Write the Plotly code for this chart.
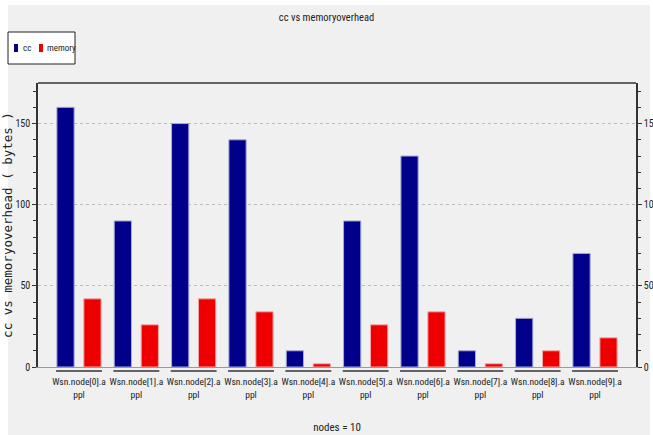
import plotly.graph_objects as go

# node labels and overhead values (bytes)
nodes = [f"Wsn.node[{i}].a<br>ppl" for i in range(10)]
cc_values = [160, 90, 150, 140, 10, 90, 130, 10, 30, 70]
memory_values = [42, 26, 42, 34, 2, 26, 34, 2, 10, 18]
series_names = ["cc", "memory"]

NAVY = "#00008B"
RED = "#EE0000"
FONT = "Roboto Condensed, DejaVu Sans Condensed, sans-serif"
TEXT = "#222222"

# plotting box in pixels
L, R, T, B = 38, 17, 83, 68
W, H = 653, 435
PW, PH = W - L - R, H - T - B


def px_x(p):
    return (p - L) / PW


def px_y(p):
    return (H - B - p) / PH


idx = list(range(len(nodes)))

fig = go.Figure()
fig.add_trace(go.Bar(
    x=idx, y=cc_values, name=series_names[0],
    marker=dict(color=NAVY, line=dict(color="#A8ABD6", width=1)),
))
fig.add_trace(go.Bar(
    x=idx, y=memory_values, name=series_names[1],
    marker=dict(color=RED, line=dict(color="#F4A8A8", width=1)),
))
# invisible trace to carry the mirrored right-hand axis
fig.add_trace(go.Scatter(x=[idx[0]], y=[0], yaxis="y2", mode="markers",
                         marker=dict(opacity=0), showlegend=False, hoverinfo="skip"))

shapes = []
# grey page panel inside a thin white frame
shapes.append(dict(type="rect", xref="paper", yref="paper", layer="below",
                   x0=px_x(8), x1=px_x(650), y0=px_y(435), y1=px_y(5),
                   fillcolor="#F0F0F0", line=dict(width=0)))
# underline beneath each category label
for i in idx:
    shapes.append(dict(type="line", xref="x", yref="paper",
                       x0=i - 0.4, x1=i + 0.4, y0=px_y(371), y1=px_y(371),
                       line=dict(color="#333333", width=1.5)))
# top border of the plotting box
shapes.append(dict(type="line", xref="paper", yref="paper", x0=0, x1=1, y0=1, y1=1,
                   line=dict(color="#333333", width=1.5)))

# compact legend box
annotations = []
shapes.append(dict(type="rect", xref="paper", yref="paper",
                   x0=px_x(8), x1=px_x(75), y0=px_y(64), y1=px_y(32),
                   fillcolor="white", line=dict(color="#222222", width=1)))
for name, color, sx, tx in [(series_names[0], NAVY, 14, 21), (series_names[1], RED, 39, 45)]:
    shapes.append(dict(type="rect", xref="paper", yref="paper",
                       x0=px_x(sx), x1=px_x(sx + 4), y0=px_y(52), y1=px_y(44),
                       fillcolor=color, line=dict(width=0)))
    annotations.append(dict(text=name, xref="paper", yref="paper", x=px_x(tx), y=px_y(48),
                            xanchor="left", yanchor="middle", showarrow=False,
                            font=dict(family=FONT, size=9, color=TEXT)))

yaxis_common = dict(
    range=[0, 175], tickvals=[0, 50, 100, 150], ticks="outside", ticklen=4,
    tickcolor="#333333", showline=True, linecolor="#333333", linewidth=1.5,
    minor=dict(dtick=10, ticks="outside", ticklen=3, tickcolor="#333333"),
    tickfont=dict(family=FONT, size=10, color=TEXT), zeroline=False, automargin=False,
)

fig.update_layout(
    width=W, height=H,
    margin=dict(l=L, r=R, t=T, b=B),
    paper_bgcolor="white", plot_bgcolor="white",
    barmode="group", bargap=0.06, bargroupgap=0.36,
    showlegend=False,
    title=dict(text="cc vs memoryoverhead", x=0.5, xanchor="center", y=1 - 17 / H,
               yanchor="middle", font=dict(family=FONT, size=10.5, color=TEXT)),
    xaxis=dict(
        range=[-0.715, 9.715], tickvals=idx, ticktext=nodes, ticks="", tickangle=0,
        showline=True, linecolor="#999999", linewidth=1, showgrid=False, automargin=False,
        ticklabelstandoff=6,
        tickfont=dict(family=FONT, size=9.5, color=TEXT),
        title=dict(text="nodes = 10", font=dict(family=FONT, size=11, color=TEXT),
                   standoff=24),
    ),
    yaxis=dict(
        **yaxis_common, side="left",
        showgrid=True, gridcolor="#BBBBBB", griddash="dot", gridwidth=1,
        title=dict(text="cc vs memoryoverhead ( bytes )", standoff=10,
                   font=dict(family="DejaVu Sans Mono", size=12.5, color=TEXT)),
    ),
    yaxis2=dict(**yaxis_common, side="right", overlaying="y", showgrid=False),
    shapes=shapes,
    annotations=annotations,
)

fig.write_html("out.html")
